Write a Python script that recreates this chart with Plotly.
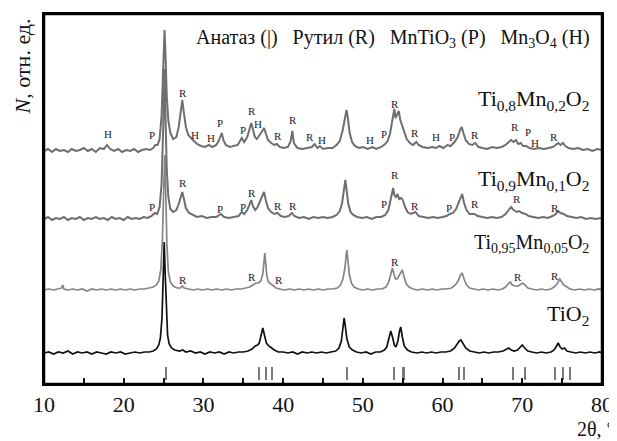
import plotly.graph_objects as go

# ---------------- data (2theta, relative intensity above each pattern's baseline) ----------------
tio2 = [(10.0,0),(10.6,1),(11.2,-1),(11.8,1),(12.4,0),(13.0,2),(13.6,-1),(14.2,1),(14.8,0),(15.4,1),(16.0,-1),(16.6,1),(17.2,0),(17.8,-1),(18.4,1),(19.0,0),(19.6,1),(20.2,-1),(20.8,0),(21.4,1),(22.0,0),(22.6,1),(23.2,1),(23.7,2),(24.1,4),(24.4,8),(24.6,15),(24.8,35),(24.95,75),(25.08,111),(25.2,80),(25.35,40),(25.5,18),(25.7,9),(26.0,5),(26.4,3),(27.0,2),(27.4,3),(27.8,1),(28.4,2),(29.0,0),(29.6,1),(30.2,-1),(30.8,1),(31.4,0),(32.0,1),(32.6,-1),(33.2,1),(33.8,0),(34.4,1),(35.0,1),(35.6,2),(36.1,4),(36.5,7),(36.8,8),(37.0,10),(37.25,18),(37.45,25),(37.65,18),(37.9,10),(38.2,7),(38.5,5),(38.9,3),(39.4,1),(40.0,1),(40.6,0),(41.2,1),(41.8,-1),(42.4,1),(43.0,0),(43.6,1),(44.2,0),(44.8,1),(45.4,0),(46.0,1),(46.6,2),(47.0,5),(47.3,12),(47.5,25),(47.65,35),(47.8,27),(48.0,14),(48.3,6),(48.7,3),(49.2,1),(49.8,0),(50.4,1),(51.0,-1),(51.6,1),(52.2,1),(52.7,3),(53.0,6),(53.25,14),(53.5,22),(53.75,15),(53.95,8),(54.15,6),(54.4,12),(54.6,22),(54.75,26),(54.95,16),(55.2,7),(55.6,3),(56.1,1),(56.8,0),(57.4,1),(58.0,0),(58.6,1),(59.2,0),(59.8,1),(60.4,1),(61.0,2),(61.5,5),(61.8,9),(62.1,12),(62.3,13),(62.55,10),(62.9,5),(63.4,2),(64.0,1),(64.6,0),(65.2,1),(65.8,0),(66.4,1),(67.0,1),(67.6,2),(68.0,4),(68.3,5),(68.6,3),(69.0,2),(69.4,3),(69.75,6),(70.0,8),(70.3,5),(70.7,2),(71.2,1),(71.8,0),(72.4,1),(73.0,0),(73.6,1),(74.0,3),(74.3,7),(74.5,10),(74.75,6),(75.0,4),(75.3,5),(75.6,2),(76.1,1),(76.7,0),(77.3,1),(77.9,0),(78.5,1),(79.1,0),(79.7,1),(80.0,0)]

ti095 = [(10.0,0),(10.6,1),(11.2,0),(11.8,1),(12.2,2),(12.35,5),(12.5,1),(13.0,0),(13.6,1),(14.2,0),(14.8,1),(15.4,-1),(16.0,1),(16.6,0),(17.2,1),(17.8,0),(18.4,1),(19.0,0),(19.6,1),(20.2,0),(20.8,1),(21.4,0),(22.0,1),(22.6,1),(23.2,2),(23.7,3),(24.1,5),(24.4,9),(24.65,20),(24.85,50),(25.0,95),(25.15,135),(25.28,95),(25.42,45),(25.6,18),(25.85,8),(26.2,4),(26.7,2),(27.1,2),(27.35,4),(27.6,2),(28.1,1),(28.7,0),(29.3,1),(29.9,0),(30.5,1),(31.1,0),(31.7,1),(32.3,0),(32.9,1),(33.5,0),(34.1,1),(34.7,1),(35.3,2),(35.8,3),(36.2,5),(36.6,7),(36.9,7),(37.2,9),(37.45,16),(37.6,28),(37.7,37),(37.82,26),(37.95,14),(38.15,8),(38.45,6),(38.7,4),(39.1,2),(39.6,1),(40.2,0),(40.8,1),(41.4,0),(42.0,1),(42.6,0),(43.2,1),(43.8,0),(44.4,1),(45.0,0),(45.6,1),(46.2,1),(46.8,2),(47.2,5),(47.5,11),(47.75,22),(47.9,34),(48.0,40),(48.12,30),(48.3,16),(48.55,7),(48.9,3),(49.4,1),(50.0,0),(50.6,1),(51.2,0),(51.8,1),(52.4,1),(52.9,3),(53.2,7),(53.45,14),(53.7,22),(53.9,16),(54.1,11),(54.3,11),(54.55,15),(54.8,19),(54.95,20),(55.15,14),(55.45,6),(55.8,3),(56.3,1),(56.9,0),(57.5,1),(58.1,0),(58.7,1),(59.3,0),(59.9,1),(60.5,1),(61.1,2),(61.6,5),(61.95,9),(62.25,15),(62.45,17),(62.7,11),(63.0,5),(63.4,2),(63.9,1),(64.5,0),(65.1,1),(65.7,0),(66.3,1),(66.9,0),(67.5,1),(67.9,3),(68.2,6),(68.5,8),(68.75,5),(69.1,4),(69.5,4),(69.8,6),(70.05,7),(70.35,5),(70.7,2),(71.2,1),(71.8,0),(72.4,1),(73.0,0),(73.6,1),(74.0,3),(74.35,6),(74.7,11),(74.95,8),(75.2,5),(75.6,3),(76.0,1),(76.6,0),(77.2,1),(77.8,0),(78.4,1),(79.0,0),(79.6,1),(80.0,0)]

ti09 = [(10.0,0),(10.5,2),(11.0,-1),(11.5,1),(12.0,0),(12.5,2),(13.0,-1),(13.5,1),(14.0,0),(14.5,2),(15.0,-1),(15.5,1),(16.0,0),(16.5,2),(17.0,0),(17.5,1),(18.0,-1),(18.5,2),(19.0,0),(19.5,1),(20.0,-1),(20.5,2),(21.0,0),(21.5,1),(22.0,0),(22.5,2),(23.0,1),(23.5,3),(23.9,6),(24.2,5),(24.5,12),(24.75,35),(24.95,90),(25.12,150),(25.25,100),(25.4,50),(25.6,22),(25.85,10),(26.2,7),(26.6,9),(26.9,15),(27.15,22),(27.35,27),(27.55,20),(27.8,11),(28.2,6),(28.7,4),(29.2,2),(29.8,3),(30.4,1),(31.0,2),(31.6,2),(32.2,5),(32.6,2),(33.2,1),(33.8,2),(34.4,3),(34.8,7),(35.1,5),(35.5,9),(35.8,14),(36.0,19),(36.2,13),(36.5,9),(36.8,12),(37.1,18),(37.4,24),(37.6,27),(37.85,18),(38.1,11),(38.5,7),(38.9,5),(39.3,6),(39.7,3),(40.2,2),(40.7,3),(41.1,6),(41.4,3),(42.0,1),(42.6,2),(43.2,0),(43.8,2),(44.4,1),(45.0,2),(45.6,1),(46.2,2),(46.7,4),(47.1,8),(47.4,16),(47.6,28),(47.8,39),(47.95,30),(48.15,16),(48.45,7),(48.8,4),(49.3,2),(49.9,1),(50.5,2),(51.1,0),(51.7,2),(52.3,2),(52.8,4),(53.2,9),(53.45,18),(53.65,28),(53.8,31),(53.95,24),(54.15,22),(54.35,25),(54.55,20),(54.8,21),(55.0,19),(55.3,12),(55.6,7),(56.0,5),(56.6,7),(57.0,3),(57.6,2),(58.2,1),(58.8,2),(59.4,1),(60.0,2),(60.5,3),(60.9,5),(61.3,6),(61.7,10),(62.0,16),(62.25,22),(62.45,25),(62.7,16),(63.0,9),(63.4,5),(64.0,5),(64.4,3),(65.0,2),(65.6,1),(66.2,2),(66.8,1),(67.4,2),(67.9,5),(68.3,9),(68.6,12),(68.9,9),(69.3,7),(69.6,8),(70.0,6),(70.4,5),(70.8,3),(71.4,2),(72.0,1),(72.6,2),(73.2,1),(73.8,3),(74.2,5),(74.5,8),(74.8,6),(75.2,5),(75.6,3),(76.2,2),(76.8,1),(77.4,2),(78.0,0),(78.6,1),(79.2,0),(79.8,1),(80.0,0)]

ti08 = [(10.0,0),(10.5,2),(11.0,-1),(11.5,2),(12.0,0),(12.5,1),(13.0,-1),(13.5,2),(14.0,0),(14.5,1),(15.0,3),(15.5,0),(16.0,2),(16.5,-1),(17.0,3),(17.5,2),(17.9,6),(18.3,2),(18.8,0),(19.3,2),(19.8,-1),(20.3,1),(20.8,0),(21.3,2),(21.8,-1),(22.3,1),(22.8,2),(23.3,1),(23.7,3),(23.95,6),(24.25,6),(24.5,12),(24.75,35),(24.95,80),(25.12,121),(25.25,95),(25.4,55),(25.6,30),(25.85,18),(26.2,12),(26.6,14),(26.9,24),(27.15,40),(27.35,51),(27.55,38),(27.8,24),(28.1,16),(28.5,12),(28.8,10),(29.2,7),(29.7,5),(30.2,4),(30.7,6),(31.1,4),(31.6,6),(31.9,10),(32.15,16),(32.3,18),(32.5,11),(32.8,6),(33.3,4),(33.8,5),(34.3,6),(34.8,13),(35.1,9),(35.5,14),(35.8,22),(36.0,28),(36.2,22),(36.45,14),(36.7,12),(37.0,15),(37.3,19),(37.6,23),(37.85,17),(38.1,11),(38.5,8),(38.9,6),(39.2,7),(39.6,4),(40.1,3),(40.6,4),(40.95,10),(41.15,20),(41.35,8),(41.8,3),(42.4,2),(43.0,3),(43.6,4),(43.95,7),(44.3,3),(44.6,5),(45.0,2),(45.6,3),(46.2,3),(46.7,6),(47.1,10),(47.45,20),(47.7,32),(47.95,41),(48.1,34),(48.35,18),(48.65,9),(49.0,5),(49.5,3),(50.0,4),(50.6,2),(51.2,4),(51.7,2),(52.3,4),(52.8,7),(53.1,10),(53.4,17),(53.65,30),(53.85,38),(53.95,42),(54.1,33),(54.3,37),(54.5,40),(54.7,31),(54.95,25),(55.2,18),(55.5,12),(55.9,8),(56.3,6),(56.7,9),(57.0,6),(57.5,4),(58.1,3),(58.7,4),(59.2,3),(59.6,5),(60.1,3),(60.6,6),(61.0,5),(61.5,9),(61.9,14),(62.2,21),(62.4,24),(62.65,17),(62.9,11),(63.3,7),(63.7,6),(64.1,8),(64.5,4),(65.0,3),(65.6,2),(66.2,4),(66.8,3),(67.4,4),(67.9,6),(68.3,9),(68.6,11),(68.9,9),(69.2,11),(69.5,7),(69.8,8),(70.1,5),(70.5,5),(70.9,3),(71.5,2),(72.1,3),(72.7,2),(73.3,3),(73.8,4),(74.2,6),(74.5,8),(74.8,6),(75.1,8),(75.4,5),(75.8,3),(76.4,2),(77.0,3),(77.6,1),(78.2,2),(78.8,0),(79.4,2),(80.0,1)]

# anatase reference lines (2theta)
anatase_ref = [25.3, 36.95, 37.8, 38.6, 48.05, 53.9, 55.1, 62.1, 62.7, 68.8, 70.3, 74.05, 75.05, 76.0]

# phase markers: (letter, 2theta, height above pattern baseline)
marks_ti08 = [("H",18.0,17),("P",23.55,16),("R",27.44,58),("H",28.95,16),("H",30.95,13),("P",32.08,28),
              ("P",34.97,21),("R",36.1,40),("H",36.85,27),("R",39.36,15),("R",41.24,31),("R",43.38,14),
              ("H",44.88,11),("H",50.9,11),("P",52.66,17),("R",54.04,47),("R",56.55,18),("H",59.18,14),
              ("P",61.19,14),("R",64.08,16),("R",69.1,24),("P",70.73,19),("H",71.61,8),("R",73.99,14)]
marks_ti09 = [("P",23.55,12),("R",27.44,36),("P",32.08,10),("P",34.97,12),("R",36.1,26),("R",39.36,13),
              ("R",41.24,13),("P",52.66,15),("R",54.04,44),("R",56.55,13),("P",60.82,11),("R",64.08,15),
              ("R",69.35,20),("R",74.12,11)]
marks_ti095 = [("R",27.44,10),("R",36.1,13),("R",39.49,10),("R",54.04,28),("R",69.47,13),("R",74.12,14)]

sample_names = ["Ti<sub>0,8</sub>Mn<sub>0,2</sub>O<sub>2</sub>",
                "Ti<sub>0,9</sub>Mn<sub>0,1</sub>O<sub>2</sub>",
                "Ti<sub>0,95</sub>Mn<sub>0,05</sub>O<sub>2</sub>",
                "TiO<sub>2</sub>"]
x_ticks = [10, 20, 30, 40, 50, 60, 70, 80]

# ---------------- layout constants ----------------
FONT = "'Liberation Serif', 'Times New Roman', 'DejaVu Serif', serif"
X_RANGE = [10, 80]
Y_RANGE = [0, 370]
offsets = {"ti08": 233, "ti09": 165, "ti095": 94, "tio2": 31}
label_y = [284, 204, 141, 69]      # vertical positions of sample names (axis units)
label_size = [22, 22, 20, 22]
NB = "\u00a0"

fig = go.Figure()

def add_pattern(data, off, color, width):
    xs = [p[0] for p in data]
    ys = [p[1] + off for p in data]
    fig.add_trace(go.Scatter(x=xs, y=ys, mode="lines", line=dict(color=color, width=width),
                             showlegend=False, hoverinfo="skip"))

add_pattern(tio2, offsets["tio2"], "#111111", 1.7)
add_pattern(ti095, offsets["ti095"], "#858585", 1.7)
add_pattern(ti09, offsets["ti09"], "#6e6e6e", 2.0)
add_pattern(ti08, offsets["ti08"], "#6e6e6e", 2.0)

# anatase reference bars
fig.add_trace(go.Bar(x=anatase_ref, y=[13] * len(anatase_ref), base=4, width=0.26,
                     marker=dict(color="#7a7a7a", line=dict(width=0)), showlegend=False,
                     hoverinfo="skip"))

ann = []
for marks, off in ((marks_ti08, offsets["ti08"]), (marks_ti09, offsets["ti09"]),
                   (marks_ti095, offsets["ti095"])):
    for letter, tx, h in marks:
        ann.append(dict(x=tx, y=off + h, text=letter, showarrow=False, xref="x", yref="y",
                        font=dict(family=FONT, size=11, color="#222222")))

for name, ly, fs in zip(sample_names, label_y, label_size):
    ann.append(dict(x=78.6, y=ly, text=name, showarrow=False, xref="x", yref="y",
                    xanchor="right", yanchor="middle",
                    font=dict(family=FONT, size=fs, color="#111111")))

legend_text = (f"Анатаз (|){NB}{NB} Рутил (R){NB}{NB} MnTiO<sub>3</sub> (P){NB}{NB} "
               f"Mn<sub>3</sub>O<sub>4</sub> (H)")
ann.append(dict(x=78.8, y=346, xref="x", yref="y", xanchor="right", yanchor="middle",
                showarrow=False, text=legend_text,
                font=dict(family=FONT, size=20, color="#111111")))

ann.append(dict(x=-0.039, y=0.859, xref="paper", yref="paper", textangle=-90,
                xanchor="center", yanchor="middle",
                showarrow=False, text="<i>N</i>, отн. ед.",
                font=dict(family=FONT, size=22, color="#111111")))
ann.append(dict(x=0.952, y=-0.121, xref="paper", yref="paper", xanchor="left",
                yanchor="middle", showarrow=False, text="2θ, °",
                font=dict(family=FONT, size=20, color="#111111")))

tick_vals = [10 + 5 * i for i in range(15)]
tick_text = [str(v) if v in x_ticks else "" for v in tick_vals]

# page body has an 8px default margin: the figure is sized/offset to compensate
fig.update_layout(
    template="none",
    width=609, height=433, autosize=False,
    margin=dict(l=36, r=15, t=6, b=57, pad=0),
    paper_bgcolor="white", plot_bgcolor="white",
    font=dict(family=FONT, color="#111111"),
    annotations=ann, bargap=0,
    shapes=[dict(type="rect", xref="paper", yref="paper", x0=0, x1=1, y0=0, y1=1,
                 line=dict(color="#000000", width=2.5), fillcolor="rgba(0,0,0,0)",
                 layer="above")],
    xaxis=dict(range=X_RANGE, tickvals=tick_vals, ticktext=tick_text, ticks="inside",
               ticklen=6, tickwidth=2, tickcolor="#111111", showgrid=False, zeroline=False,
               showline=True, linecolor="#000000", linewidth=2, mirror=True,
               automargin=False,
               tickfont=dict(family=FONT, size=22, color="#111111")),
    yaxis=dict(range=Y_RANGE, showticklabels=False, ticks="", showgrid=False,
               zeroline=False, showline=True, linecolor="#000000", linewidth=2, mirror=True,
               automargin=False),
)

fig.write_html("out.html")
